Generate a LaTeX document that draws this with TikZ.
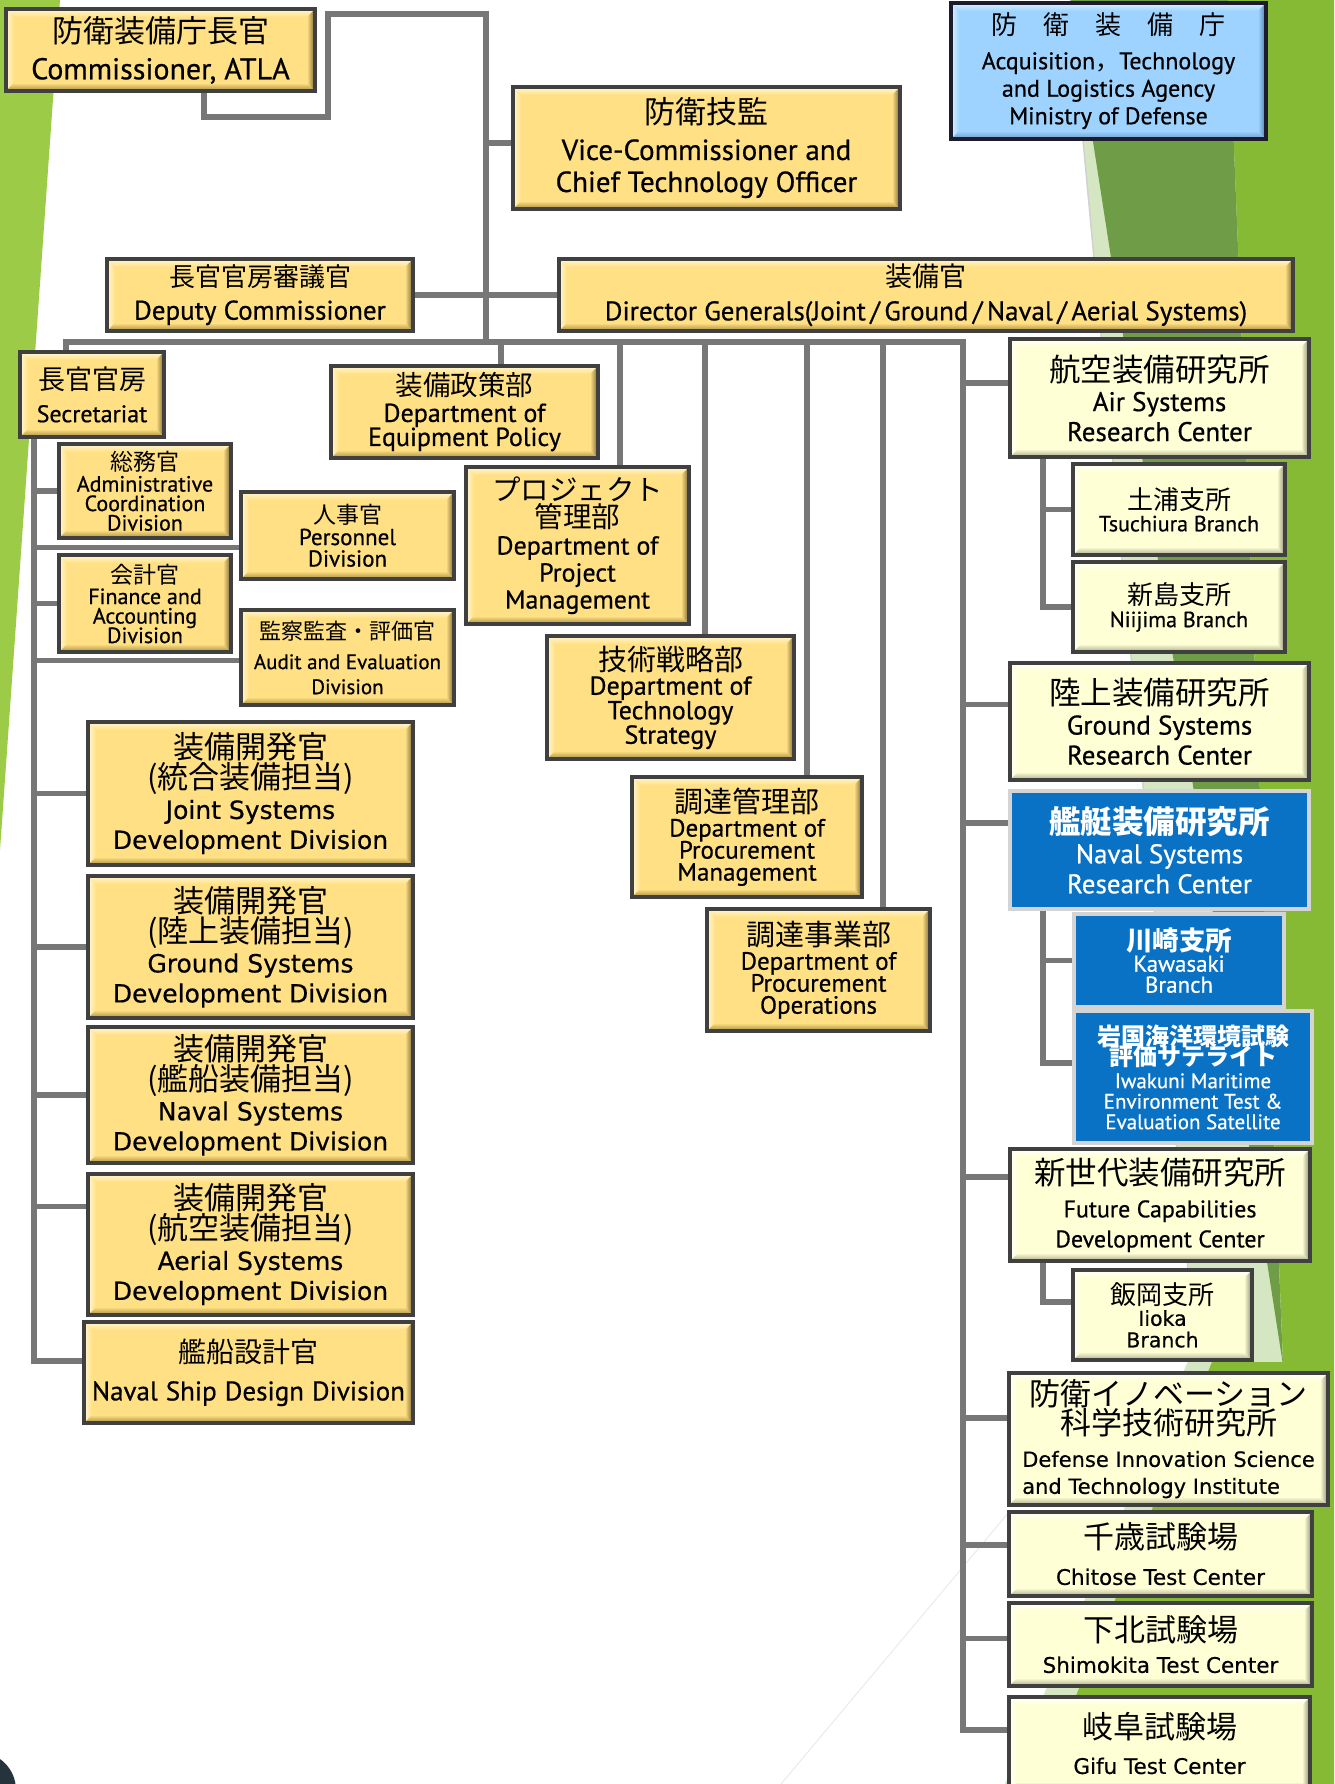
\documentclass[tikz,border=0pt]{standalone}
\usepackage{fontspec}
\usetikzlibrary{calc}
\newfontfamily\jpf{Noto Sans CJK JP}
\newfontfamily\nrf[FakeBold=0.6]{PT Sans}
\newfontfamily\wdf[FakeBold=0.5]{DejaVu Sans}
\newcommand\fJ[1]{\jpf\fontsize{#1}{#1}\selectfont}
\newcommand\fN[1]{\nrf\fontsize{#1}{#1}\selectfont}
\newcommand\fW[1]{\wdf\fontsize{#1}{#1}\selectfont}
\newcommand\lsp[1]{\fontsize{10}{#1}\selectfont\lineskiplimit=-200pt\lineskip=0pt}
\definecolor{yfill}{HTML}{FFE084}
\definecolor{ylt}{HTML}{FFF7D6}
\definecolor{ydk}{HTML}{7A6630}
\definecolor{ydk2}{HTML}{A88C3A}
\definecolor{cfill}{HTML}{FFFFD6}
\definecolor{clt}{HTML}{FFFFFA}
\definecolor{cdk}{HTML}{8A8A70}
\definecolor{cdk2}{HTML}{A8A888}
\definecolor{afill}{HTML}{9ED3FF}
\definecolor{alt}{HTML}{DDF0FF}
\definecolor{adk}{HTML}{4C7BA8}
\definecolor{adk2}{HTML}{6C9CCB}
\definecolor{bordc}{HTML}{404040}
\definecolor{navyb}{HTML}{1C1C2E}
\definecolor{bfill}{HTML}{0A72C4}
\definecolor{bbord}{HTML}{D4D4D4}
\definecolor{connc}{HTML}{777777}
\definecolor{gleft}{HTML}{9CCB48}
\definecolor{gpale}{HTML}{D4E7C2}
\definecolor{golive}{HTML}{6E9C47}
\definecolor{gbright}{HTML}{86BA35}
\definecolor{darkdot}{HTML}{24333C}
\newcommand\bevdraw[4]{%
 \path (path picture bounding box.north west) coordinate (pA)
  (path picture bounding box.north east) coordinate (pB)
  (path picture bounding box.south east) coordinate (pC)
  (path picture bounding box.south west) coordinate (pD);
 \shade[top color=#1, bottom color=#2] (pA) -- (pB) -- ($(pB)+(-8pt,-8pt)$) -- ($(pA)+(8pt,-8pt)$) -- cycle;
 \shade[left color=#1, right color=#2] (pA) -- ($(pA)+(8pt,-8pt)$) -- ($(pD)+(8pt,8pt)$) -- (pD) -- cycle;
 \shade[top color=#2, bottom color=#4] (pD) -- (pC) -- ($(pC)+(-8pt,8pt)$) -- ($(pD)+(8pt,8pt)$) -- cycle;
 \shade[left color=#2, right color=#3] (pB) -- (pC) -- ($(pC)+(-8pt,8pt)$) -- ($(pB)+(-8pt,-8pt)$) -- cycle;
}
\newcommand\bx[7]{\node[#1, minimum width={#5-#3}, minimum height={#6-#4}] (#2) at ({(#3+#5)/2},{(#4+#6)/2}) {#7};}
\pgfdeclarelayer{deco}
\pgfdeclarelayer{bg}
\pgfsetlayers{deco,bg,main}
\tikzset{
  conn/.style={draw=connc, line width=5.5pt, line cap=rect, line join=miter},
  box/.style={draw=bordc, line width=3.5pt, inner sep=0pt, outer sep=1.75pt, align=center},
  bevel/.style n args={4}{path picture={\bevdraw{#1}{#2}{#3}{#4}}},
  ybox/.style={box, fill=yfill, bevel={ylt}{yfill}{ydk}{ydk2}},
  cbox/.style={box, fill=cfill, bevel={clt}{cfill}{cdk}{cdk2}},
  abox/.style={box, draw=navyb, fill=afill, bevel={alt}{afill}{adk}{adk2}},
  bbox/.style={box, draw=bbord, line width=4.5pt, fill=bfill, text=white},
}
\begin{document}
\begin{tikzpicture}[x=1pt,y=-1pt]
\useasboundingbox (0,0) rectangle (1334,1784);
\clip (0,0) rectangle (1334,1784);

% ---------- boxes ----------
\bx{ybox,font=\lsp{37}}{comm}{6}{9}{315}{91}{{\fJ{31}防衛装備庁長官}\\{\fN{30}Commissioner, ATLA}}
\bx{ybox,font=\lsp{32}}{vice}{513}{87}{900}{209}{{\fJ{31}防衛技監}\\[4pt]{\fN{29}Vice-Commissioner and}\\{\fN{29}Chief Technology Officer}}
\bx{abox,font=\lsp{27.5}}{atla}{951}{3}{1266}{139}{{\fJ{26}防　衛　装　備　庁}\\[7pt]{\fN{24}Acquisition{\fJ{24}，}Technology}\\{\fN{24}and Logistics Agency}\\{\fN{24}Ministry of Defense}}
\bx{ybox,font=\lsp{33}}{dep}{107}{259}{413}{331}{{\fJ{26}長官官房審議官}\\{\fN{27}Deputy Commissioner}}
\bx{ybox,font=\lsp{34}}{dg}{559}{259}{1293}{331}{{\fJ{27}装備官}\\{\fN{27}Director Generals(Joint\,/\,Ground\,/\,Naval\,/\,Aerial Systems)}}
\bx{ybox,font=\lsp{33}}{sec}{20}{352}{164}{437}{{\fJ{27}長官官房}\\{\fN{24}Secretariat}}
\bx{ybox,font=\lsp{19.5}}{adm}{59}{444}{231}{538}{{\fJ{23}総務官}\\[1.5pt]{\fN{22}Administrative}\\{\fN{22}Coordination}\\{\fN{22}Division}}
\bx{ybox,font=\lsp{21.5}}{per}{241}{492}{454}{579}{{\fJ{23}人事官}\\{\fN{23}Personnel}\\{\fN{23}Division}}
\bx{ybox,font=\lsp{19.5}}{fin}{59}{555}{231}{652}{{\fJ{23}会計官}\\[1.5pt]{\fN{22}Finance and}\\{\fN{22}Accounting}\\{\fN{22}Division}}
\bx{ybox,font=\lsp{25}}{aud}{241}{610}{454}{705}{{\fJ{22}監察監査・評価官}\\[5pt]{\fN{21}Audit and Evaluation}\\{\fN{21}Division}}
\bx{ybox,font=\lsp{24}}{eqp}{331}{366}{598}{458}{{\fJ{27.5}装備政策部}\\[2pt]{\fN{26}Department of}\\{\fN{26}Equipment Policy}}
\bx{ybox,font=\lsp{27}}{prj}{466}{467}{689}{624}{{\fJ{28.5}プロジェクト}\\{\fJ{28.5}管理部}\\{\fN{26}Department of}\\{\fN{26}Project}\\{\fN{26}Management}}
\bx{ybox,font=\lsp{24.5}}{tec}{547}{636}{794}{759}{{\fJ{29}技術戦略部}\\{\fN{26}Department of}\\{\fN{26}Technology}\\{\fN{26}Strategy}}
\bx{ybox,font=\lsp{22}}{pmg}{632}{777}{862}{897}{{\fJ{29}調達管理部}\\[2pt]{\fN{25}Department of}\\{\fN{25}Procurement}\\{\fN{25}Management}}
\bx{ybox,font=\lsp{22}}{pop}{707}{909}{930}{1031}{{\fJ{29}調達事業部}\\[2pt]{\fN{25}Department of}\\{\fN{25}Procurement}\\{\fN{25}Operations}}
\bx{ybox,font=\lsp{30}}{jsd}{88}{722}{413}{865}{{\fJ{31}装備開発官}\\{\fJ{31}(統合装備担当)}\\{\fW{25}Joint Systems}\\{\fW{25}Development Division}}
\bx{ybox,font=\lsp{30}}{gsd}{88}{876}{413}{1018}{{\fJ{31}装備開発官}\\{\fJ{31}(陸上装備担当)}\\{\fW{25}Ground Systems}\\{\fW{25}Development Division}}
\bx{ybox,font=\lsp{30}}{nsd}{88}{1027}{413}{1163}{{\fJ{31}装備開発官}\\{\fJ{31}(艦船装備担当)}\\{\fW{25}Naval Systems}\\{\fW{25}Development Division}}
\bx{ybox,font=\lsp{30}}{asd}{88}{1174}{413}{1315}{{\fJ{31}装備開発官}\\{\fJ{31}(航空装備担当)}\\{\fW{25}Aerial Systems}\\{\fW{25}Development Division}}
\bx{ybox,font=\lsp{38}}{nsdd}{84}{1322}{413}{1423}{{\fJ{28}艦船設計官}\\{\fN{27}Naval\hspace{8pt}Ship\hspace{8pt}Design\hspace{8pt}Division}}

\bx{cbox,font=\lsp{30}}{arc}{1010}{339}{1309}{457}{{\fJ{31.5}航空装備研究所}\\{\fN{27}Air Systems}\\{\fN{27}Research Center}}
\bx{cbox,font=\lsp{22}}{tsu}{1073}{464}{1285}{555}{{\fJ{26}土浦支所}\\{\fN{22}Tsuchiura Branch}}
\bx{cbox,font=\lsp{23}}{nii}{1073}{562}{1285}{652}{{\fJ{26}新島支所}\\{\fN{22}Niijima Branch}}
\bx{cbox,font=\lsp{30}}{grc}{1010}{663}{1309}{780}{{\fJ{31.5}陸上装備研究所}\\{\fN{27}Ground Systems}\\{\fN{27}Research Center}}
\bx{bbox,font=\lsp{30}}{nrc}{1010}{791}{1309}{909}{{\fJ{31.5}\bfseries 艦艇装備研究所}\\{\fN{27}Naval Systems}\\{\fN{27}Research Center}}
\bx{bbox,font=\lsp{21}}{kaw}{1074}{914}{1284}{1007}{{\fJ{26.5}\bfseries 川崎支所}\\{\fN{23}Kawasaki}\\{\fN{23}Branch}}
\bx{bbox,font=\lsp{20.5}}{iwa}{1074}{1011}{1312}{1143}{{\fJ{24}\bfseries 岩国海洋環境試験}\\{\fJ{24}\bfseries 評価サテライト}\\[2pt]{\fN{21}Iwakuni Maritime}\\{\fN{21}Environment Test \&}\\{\fN{21}Evaluation Satellite}}
\bx{cbox,font=\lsp{30}}{frc}{1010}{1149}{1310}{1261}{{\fJ{31.5}新世代装備研究所}\\[3pt]{\fN{24}Future Capabilities}\\{\fN{24}Development Center}}
\bx{cbox,font=\lsp{21.5}}{iio}{1073}{1270}{1252}{1360}{{\fJ{26}飯岡支所}\\{\fW{20.5}Iioka}\\{\fW{20.5}Branch}}
\bx{cbox,font=\lsp{28.5}}{dis}{1009}{1373}{1328}{1505}{{\fJ{31}防衛イノベーション}\\{\fJ{31}科学技術研究所}\\[4pt]{\fW{21}Defense Innovation Science}\\[-1.5pt]{\fW{21}\rlap{and Technology Institute}\hphantom{Defense Innovation Science}}}
\bx{cbox,font=\lsp{36}}{chi}{1009}{1512}{1312}{1596}{{\fJ{31}千歳試験場}\\{\fW{21.5}Chitose Test Center}}
\bx{cbox,font=\lsp{31}}{shi}{1009}{1603}{1312}{1686}{{\fJ{31}下北試験場}\\{\fW{21.5}Shimokita Test Center}}
\bx{cbox,font=\lsp{35}}{gif}{1009}{1697}{1310}{1790}{{\fJ{31}岐阜試験場}\\{\fW{21.5}Gifu Test Center}}

% ---------- connectors ----------
\coordinate (c1) at (204,117);
\coordinate (c2) at (328,14);
\coordinate (tj) at (486,342);
\coordinate (bL) at (66,342);
\coordinate (bR) at (963,342);
\coordinate (rE) at (963,1730);
\coordinate (lT) at (34,437);
\coordinate (lE) at (34,1361);
\coordinate (sx) at (1043,0);
\coordinate (b1) at (501,342);
\coordinate (b2) at (620,342);
\coordinate (b3) at (705,342);
\coordinate (b4) at (807,342);
\coordinate (b5) at (883,342);
\coordinate (viceC) at ([yshift=5pt]vice.west);
\coordinate (perC) at ([yshift=-12pt]per.west);
\coordinate (audC) at ([yshift=-3pt]aud.west);
\coordinate (asdC) at ([yshift=38pt]asd.west);
\coordinate (arcC) at ([yshift=15pt]arc.west);
\coordinate (grcC) at ([yshift=17pt]grc.west);
\coordinate (nrcC) at ([yshift=27pt]nrc.west);
\coordinate (frcC) at ([yshift=28pt]frc.west);
\coordinate (disC) at ([yshift=21pt]dis.west);
\coordinate (chiC) at ([yshift=9pt]chi.west);
\coordinate (shiC) at ([yshift=6pt]shi.west);
\coordinate (iwaC) at ([yshift=14pt]iwa.west);
\coordinate (iioC) at ([yshift=13pt]iio.west);

\begin{pgfonlayer}{bg}
\draw[conn] (comm.south -| c1) -- (c1) -| (c2) -| (tj);
\draw[conn] (viceC) -- (viceC -| tj);
\draw[conn] (dep.east) -- (dg.west);
\draw[conn] (sec.north -| bL) -- (bL) -- (bR) -- (rE) -- (rE -| gif.west);
\draw[conn] (sec.south -| lT) -- (lE) -- (lE -| nsdd.west);
\draw[conn] (adm.west -| lT) -- (adm.west);
\draw[conn] (perC -| lT) -- (perC);
\draw[conn] (fin.west -| lT) -- (fin.west);
\draw[conn] (audC -| lT) -- (audC);
\draw[conn] (jsd.west -| lT) -- (jsd.west);
\draw[conn] (gsd.west -| lT) -- (gsd.west);
\draw[conn] (nsd.west -| lT) -- (nsd.west);
\draw[conn] (asdC -| lT) -- (asdC);
\draw[conn] (b1) -- (b1 |- eqp.north);
\draw[conn] (b2) -- (b2 |- prj.north);
\draw[conn] (b3) -- (b3 |- tec.north);
\draw[conn] (b4) -- (b4 |- pmg.north);
\draw[conn] (b5) -- (b5 |- pop.north);
\draw[conn] (arcC -| bR) -- (arcC);
\draw[conn] (grcC -| bR) -- (grcC);
\draw[conn] (nrcC -| bR) -- (nrcC);
\draw[conn] (frcC -| bR) -- (frcC);
\draw[conn] (disC -| bR) -- (disC);
\draw[conn] (chiC -| bR) -- (chiC);
\draw[conn] (shiC -| bR) -- (shiC);
\draw[conn] (arc.south -| sx) |- (nii.west);
\draw[conn] (tsu.west -| sx) -- (tsu.west);
\draw[conn] (nrc.south -| sx) |- (iwaC);
\draw[conn] (kaw.west -| sx) -- (kaw.west);
\draw[conn] (frc.south -| sx) |- (iioC);
\end{pgfonlayer}

% ---------- background decoration ----------
\begin{pgfonlayer}{deco}
\fill[white] (0,0) rectangle (1334,1784);
\fill[gleft] (0,0) -- (60,0) -- (0,850) -- cycle;
\fill[gpale] (1070,0) -- (1334,0) -- (1334,1784) -- (1005,1784) -- (1195,1345) -- cycle;
\draw[color=black!18, line width=1.5pt] (1070,0) -- (1195,1345);
\fill[golive] (1071,0) -- (1228,0) -- (1283,1365) -- cycle;
\fill[gbright] (1228,0) -- (1334,0) -- (1334,1784) -- (1040,1784) -- (1212,1362) -- (1283,1362) -- cycle;
\draw[color=black!8, line width=1pt] (781,1784) -- (1009,1512);
\fill[darkdot] (-22,1790) circle (38pt);
\end{pgfonlayer}
\end{tikzpicture}
\end{document}
